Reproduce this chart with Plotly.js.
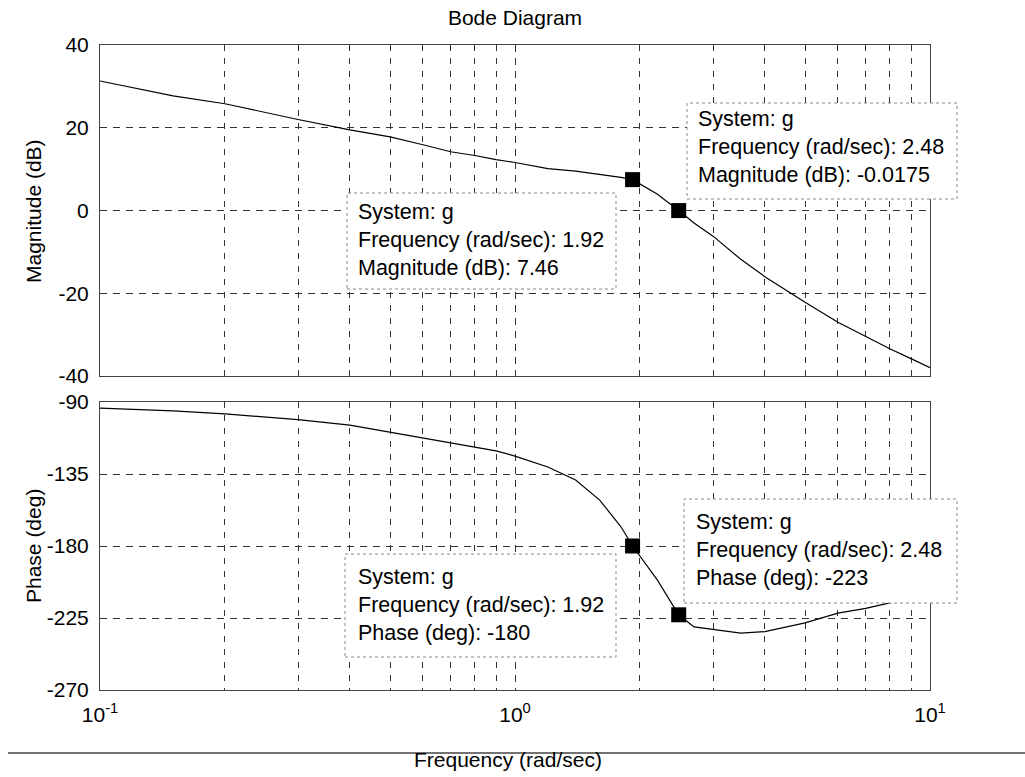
<!DOCTYPE html>
<html><head><meta charset="utf-8">
<script src="https://cdn.plot.ly/plotly-3.0.1.min.js"></script>
<style>html,body{margin:0;padding:0;background:#fff}</style>
</head><body><div id="chart" style="width:1025px;height:777px"></div>
<script>
// ---- data ----
const freq     = [0.1, 0.15, 0.2, 0.3, 0.4, 0.5, 0.6, 0.7, 0.8, 0.9, 1.0, 1.2, 1.4, 1.6, 1.8, 1.92, 2.2, 2.48, 2.7, 3.0, 3.5, 4.0, 5.0, 6.0, 7.0, 8.0, 9.0, 10.0];
const magDb    = [31.3, 27.7, 25.8, 22.0, 19.5, 17.8, 15.9, 14.2, 13.3, 12.3, 11.6, 10.1, 9.5, 8.8, 8.0, 7.46, 4.0, -0.0175, -3.0, -6.2, -11.8, -16.0, -22.2, -27.0, -30.5, -33.4, -35.8, -38.0];
const phaseDeg = [-93.8, -95.6, -97.4, -101.0, -104.4, -108.8, -112.5, -115.6, -118.1, -120.6, -123.8, -130.6, -138.8, -151.3, -168.0, -180, -201, -223, -230.6, -232.0, -234.5, -233.5, -228.0, -222.0, -219.0, -215.5, -212.5, -210.0];
const markFreq  = [1.92, 2.48];
const markMag   = [7.46, -0.0175];
const markPhase = [-180, -223];
const systemName = 'g';
const magTickVals   = [-40, -20, 0, 20, 40];
const magTickText   = ['-40', '-20', '0', '20', '40'];
const phaseTickVals = [-270, -225, -180, -135, -90];
const phaseTickText = ['-270', '-225', '-180', '-135', '-90'];
const freqTickVals  = [0.1, 1, 10];
const freqTickText  = ['10<sup>-1</sup>', '10<sup>0</sup>', '10<sup>1</sup>'];
const freqMinorVals = [0.2, 0.3, 0.4, 0.5, 0.6, 0.7, 0.8, 0.9, 2, 3, 4, 5, 6, 7, 8, 9];

// ---- layout helpers (pixel -> paper) ----
const W = 1025, H = 777, L = 100, R = 95;
const PW = W - L - R;
const px = x => (x - L) / PW;
const py = y => 1 - y / H;
const FONT = '"Liberation Sans", Arial, sans-serif';

const lineStyle = {color: '#000', width: 1.2};
const markStyle = {symbol: 'square', size: 15, color: '#000'};

const traces = [
  {x: freq, y: magDb, xaxis: 'x', yaxis: 'y', mode: 'lines', line: lineStyle, hoverinfo: 'skip'},
  {x: freq, y: phaseDeg, xaxis: 'x2', yaxis: 'y2', mode: 'lines', line: lineStyle, hoverinfo: 'skip'},
  {x: markFreq, y: markMag, xaxis: 'x', yaxis: 'y', mode: 'markers', marker: markStyle, hoverinfo: 'skip'},
  {x: markFreq, y: markPhase, xaxis: 'x2', yaxis: 'y2', mode: 'markers', marker: markStyle, hoverinfo: 'skip'}
];

const gridCommon = {gridcolor: '#333', gridwidth: 1, griddash: '7px,6px'};
const xCommon = Object.assign({
  type: 'log', range: [-1, 1], tickmode: 'array', tickvals: freqTickVals, ticktext: freqTickText,
  showgrid: true, zeroline: false, showline: true, mirror: true, linecolor: '#444', linewidth: 1,
  ticks: '', tickfont: {family: FONT, size: 21, color: '#000'},
  minor: {tickmode: 'array', tickvals: freqMinorVals, showgrid: true, gridcolor: '#333', gridwidth: 1, griddash: '6px,7px', ticks: ''}
}, gridCommon);
const yCommon = Object.assign({
  tickmode: 'array', showgrid: true, zeroline: false, showline: true, mirror: true,
  linecolor: '#444', linewidth: 1, ticks: '', ticklabelstandoff: 6,
  tickfont: {family: FONT, size: 21, color: '#000'}
}, gridCommon);

// annotation boxes: [left, top, right, bottom, textLeft, textCenterY] in pixels
const boxes = [
  {b: [687, 103, 957, 199], tx: 697, ty: 147, f: markFreq[1], label: 'Magnitude (dB)', v: markMag[1]},
  {b: [347, 193, 616, 289], tx: 357, ty: 240, f: markFreq[0], label: 'Magnitude (dB)', v: markMag[0]},
  {b: [684, 499, 957, 603], tx: 695, ty: 550, f: markFreq[1], label: 'Phase (deg)', v: markPhase[1]},
  {b: [345, 554, 616, 657], tx: 357, ty: 605, f: markFreq[0], label: 'Phase (deg)', v: markPhase[0]}
];

const shapes = boxes.map(o => ({
  type: 'rect', xref: 'paper', yref: 'paper', layer: 'above',
  x0: px(o.b[0]), x1: px(o.b[2]), y0: py(o.b[3]), y1: py(o.b[1]),
  fillcolor: '#fff', line: {color: '#888', width: 1, dash: 'dot'}
}));
shapes.push({type: 'line', xref: 'paper', yref: 'paper', layer: 'below',
  x0: px(8), x1: px(1025), y0: py(753), y1: py(753), line: {color: '#444', width: 1.5}});

const annotations = boxes.map(o => ({
  xref: 'paper', yref: 'paper', x: px(o.tx), y: py(o.ty), xanchor: 'left', yanchor: 'middle',
  align: 'left', showarrow: false, borderpad: 0,
  font: {family: FONT, size: 21.5, color: '#000'},
  text: 'System: ' + systemName + '<br>Frequency (rad/sec): ' + o.f + '<br>' + o.label + ': ' + o.v
}));
annotations.push(
  {xref: 'paper', yref: 'paper', x: px(33), y: py(211), textangle: -90, showarrow: false,
   xanchor: 'center', yanchor: 'middle', text: 'Magnitude (dB)', font: {family: FONT, size: 21, color: '#000'}},
  {xref: 'paper', yref: 'paper', x: px(33), y: py(546), textangle: -90, showarrow: false,
   xanchor: 'center', yanchor: 'middle', text: 'Phase (deg)', font: {family: FONT, size: 21, color: '#000'}},
  {xref: 'paper', yref: 'paper', x: px(508), y: py(759), showarrow: false, bgcolor: 'rgba(0,0,0,0)',
   xanchor: 'center', yanchor: 'middle', text: 'Frequency (rad/sec)', font: {family: FONT, size: 21, color: '#000'}}
);

const layout = {
  width: W, height: H, margin: {l: L, r: R, t: 0, b: 0},
  paper_bgcolor: '#fff', plot_bgcolor: '#fff', showlegend: false,
  font: {family: FONT, color: '#000'},
  title: {text: 'Bode Diagram', x: 0.5, xref: 'paper', y: py(18), yref: 'container', yanchor: 'middle',
          font: {family: FONT, size: 21, color: '#000'}},
  xaxis: Object.assign({}, xCommon, {anchor: 'y', showticklabels: false}),
  xaxis2: Object.assign({}, xCommon, {anchor: 'y2', matches: 'x', ticks: 'outside', ticklen: 6, tickcolor: 'rgba(0,0,0,0)'}),
  yaxis: Object.assign({}, yCommon, {domain: [py(376), py(45)], range: [-40, 40], tickvals: magTickVals, ticktext: magTickText}),
  yaxis2: Object.assign({}, yCommon, {domain: [py(690), py(402)], range: [-270, -90], tickvals: phaseTickVals, ticktext: phaseTickText}),
  shapes: shapes,
  annotations: annotations
};

Plotly.newPlot('chart', traces, layout, {displayModeBar: false, staticPlot: true});
</script></body></html>
